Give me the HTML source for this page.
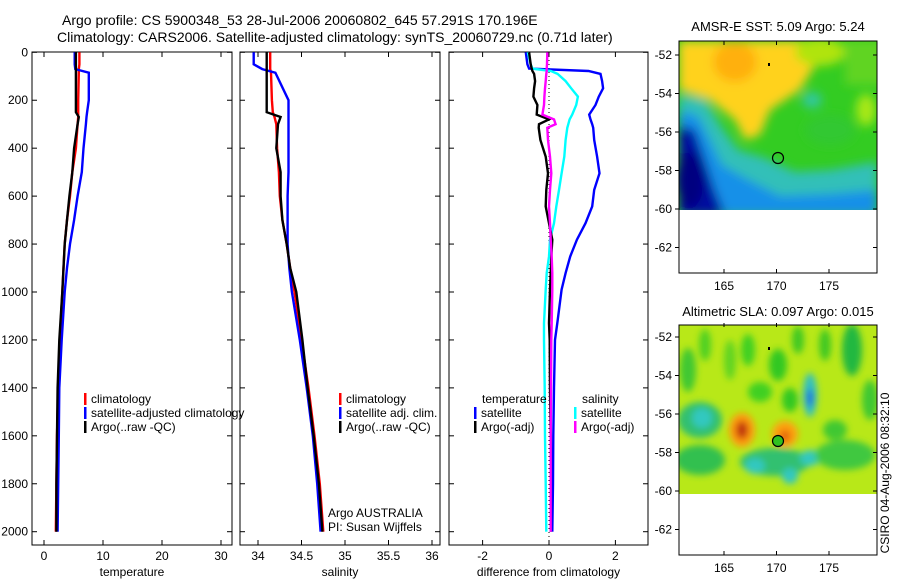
<!DOCTYPE html>
<html><head><meta charset="utf-8"><style>
html,body{margin:0;padding:0;background:#fff;}
svg{display:block;font-family:"Liberation Sans",sans-serif;}
</style></head><body>
<svg id="fig" width="900" height="580" viewBox="0 0 900 580">
<defs>
<filter id="blur1" x="-20%" y="-20%" width="140%" height="140%"><feGaussianBlur stdDeviation="5"/></filter>
<filter id="blur2" x="-20%" y="-20%" width="140%" height="140%"><feGaussianBlur stdDeviation="3.5"/></filter>
<clipPath id="clipTop"><rect x="679" y="41" width="198" height="169"/></clipPath>
<clipPath id="clipBot"><rect x="679" y="325" width="198" height="169"/></clipPath>
<clipPath id="cp1"><rect x="32" y="52" width="200" height="493"/></clipPath>
<clipPath id="cp2"><rect x="240" y="52" width="200" height="493"/></clipPath>
<clipPath id="cp3"><rect x="449" y="52" width="199" height="493"/></clipPath>
</defs>
<text x="62" y="25" font-size="14">Argo profile: CS 5900348_53 28-Jul-2006 20060802_645 57.291S 170.196E</text>
<text x="57" y="42" font-size="14">Climatology: CARS2006. Satellite-adjusted climatology: synTS_20060729.nc (0.71d later)</text>
<g id="plots"></g>

<!-- top map -->
<text x="778" y="31" font-size="13" text-anchor="middle">AMSR-E SST: 5.09 Argo: 5.24</text>
<g clip-path="url(#clipTop)">
<rect x="679" y="41" width="198" height="169" fill="#33cc22"/>
<g filter="url(#blur1)">
<rect x="845" y="40" width="40" height="45" fill="#60d420"/>
<ellipse cx="866" cy="110" rx="10" ry="16" fill="#a8e818"/>
<polygon points="679,41 830,41 800,90 770,110 760,135 745,140 735,120 710,100 679,90" fill="#ffd21a"/>
<ellipse cx="735" cy="62" rx="22" ry="20" fill="#ffb010"/>
<ellipse cx="820" cy="52" rx="25" ry="14" fill="#b0e410"/>
<ellipse cx="812" cy="100" rx="10" ry="8" fill="#30c8a0"/>
<polygon points="679,95 705,100 722,128 738,150 765,158 795,172 830,170 877,162 877,215 679,215" fill="#30c0b8"/>
<polygon points="679,110 698,116 710,140 722,165 745,178 780,196 830,194 877,190 877,215 679,215" fill="#1890e8"/>
<polygon points="679,125 695,130 705,160 715,190 725,215 679,215" fill="#0010a0"/>
<ellipse cx="690" cy="180" rx="14" ry="28" fill="#000080"/>
<ellipse cx="830" cy="130" rx="25" ry="15" fill="#30c830"/>
</g>
<circle cx="778" cy="158" r="5.5" fill="none" stroke="#000" stroke-width="1.2"/>
<rect x="768" y="63" width="2" height="3" fill="#000"/>
</g>
<rect x="679" y="41" width="198" height="232" fill="none" stroke="#000"/>
<g id="mapaxTop"></g>

<!-- bottom map -->
<text x="778" y="316" font-size="13" text-anchor="middle">Altimetric SLA: 0.097 Argo: 0.015</text>
<g clip-path="url(#clipBot)">
<rect x="679" y="325" width="198" height="169" fill="#b8e818"/>
<g filter="url(#blur2)">
<ellipse cx="688" cy="370" rx="8" ry="22" fill="#40c830"/>
<ellipse cx="705" cy="345" rx="6" ry="16" fill="#50d020"/>
<ellipse cx="730" cy="360" rx="6" ry="20" fill="#60d420"/>
<ellipse cx="748" cy="350" rx="7" ry="16" fill="#40d020"/>
<ellipse cx="778" cy="365" rx="9" ry="16" fill="#30c820"/>
<ellipse cx="798" cy="340" rx="6" ry="14" fill="#40c820"/>
<ellipse cx="825" cy="345" rx="6" ry="16" fill="#40c820"/>
<ellipse cx="852" cy="350" rx="10" ry="26" fill="#20b840"/>
<ellipse cx="870" cy="400" rx="8" ry="20" fill="#40c830"/>
<ellipse cx="760" cy="392" rx="12" ry="10" fill="#40d020"/>
<ellipse cx="790" cy="400" rx="8" ry="12" fill="#30c820"/>
<ellipse cx="700" cy="420" rx="22" ry="18" fill="#30c070"/>
<ellipse cx="702" cy="418" rx="10" ry="10" fill="#30c8c0"/>
<ellipse cx="810" cy="395" rx="7" ry="22" fill="#30c0c0"/>
<ellipse cx="810" cy="398" rx="3" ry="9" fill="#2060e0"/>
<ellipse cx="700" cy="460" rx="25" ry="15" fill="#30c050"/>
<ellipse cx="775" cy="462" rx="35" ry="14" fill="#30c070"/>
<ellipse cx="755" cy="466" rx="10" ry="8" fill="#30c8c0"/>
<ellipse cx="790" cy="476" rx="8" ry="8" fill="#30c8c0"/>
<ellipse cx="810" cy="458" rx="10" ry="8" fill="#30c8c0"/>
<ellipse cx="845" cy="455" rx="30" ry="15" fill="#40c840"/>
<ellipse cx="835" cy="430" rx="12" ry="10" fill="#40c830"/>
<ellipse cx="742" cy="430" rx="13" ry="17" fill="#ff9a10"/>
<ellipse cx="742" cy="430" rx="6" ry="9" fill="#c03010"/>
<ellipse cx="785" cy="434" rx="13" ry="13" fill="#ffa010"/>
<ellipse cx="785" cy="436" rx="5" ry="6" fill="#e06010"/>
</g>
<circle cx="778" cy="441" r="5.5" fill="#30c020" stroke="#000" stroke-width="1.2"/>
<rect x="768" y="347" width="2" height="3" fill="#000"/>
</g>
<rect x="679" y="325" width="198" height="230" fill="none" stroke="#000"/>
<g id="mapaxBot"></g>

<text transform="translate(889,473) rotate(-90)" font-size="12" text-anchor="middle">CSIRO 04-Aug-2006 08:32:10</text>
</svg>
<script>
// ---- data ----
const tempDepth = [0,50,70,85,200,250,270,300,400,500,600,700,800,900,1000,1200,1400,1600,1800,2000];
const tempClim = [6.0,6.0,5.9,5.9,5.8,5.8,5.8,5.7,5.4,4.8,4.4,3.9,3.5,3.3,3.1,2.7,2.4,2.2,2.1,2.0];
const tempSat  = [5.2,5.2,5.3,7.6,7.6,7.3,7.2,7.1,6.7,6.4,5.7,5.1,4.4,3.9,3.5,3.0,2.6,2.5,2.4,2.3];
const tempArgo = [5.4,5.4,5.4,5.4,5.4,5.4,5.9,5.7,5.1,4.8,4.3,3.9,3.5,3.3,3.1,2.6,2.3,2.2,2.1,2.1];
const salClim = [34.14,34.14,34.14,34.15,34.16,34.17,34.19,34.21,34.22,34.24,34.25,34.28,34.33,34.37,34.42,34.5,34.58,34.65,34.71,34.75];
const salSat  = [33.95,33.95,34.05,34.2,34.35,34.35,34.35,34.35,34.35,34.35,34.34,34.34,34.34,34.36,34.39,34.48,34.56,34.63,34.68,34.72];
const salArgo = [34.10,34.10,34.10,34.10,34.10,34.10,34.26,34.23,34.21,34.26,34.26,34.28,34.33,34.37,34.44,34.51,34.57,34.64,34.70,34.74];
const diffDepth = [0,50,68,78,90,120,150,185,220,260,280,300,315,366,435,505,574,643,713,782,852,921,990,1130,1200,1400,1600,1800,2000];
const diffSatT  = [-0.7,-0.65,-0.6,1.19,1.55,1.6,1.63,1.5,1.4,1.21,1.25,1.3,1.33,1.36,1.45,1.52,1.36,1.3,1.1,0.84,0.64,0.5,0.38,0.25,0.18,0.15,0.13,0.12,0.1];
const diffSatS  = [-0.64,-0.55,-0.5,0.06,0.26,0.5,0.67,0.87,0.82,0.7,0.62,0.58,0.55,0.5,0.46,0.38,0.3,0.22,0.15,0.03,0.0,-0.07,-0.1,-0.15,-0.15,-0.13,-0.12,-0.1,-0.08];
const diffArgoT = [-0.6,-0.55,-0.52,-0.5,-0.45,-0.42,-0.45,-0.47,-0.35,-0.37,0.0,-0.3,-0.31,-0.26,-0.1,-0.03,-0.08,-0.1,0.0,0.1,0.07,0.05,0.03,0.0,0.02,0.03,0.05,0.05,0.05];
const diffArgoS = [-0.05,-0.06,-0.07,-0.07,-0.08,-0.1,-0.12,-0.14,-0.15,-0.2,0.15,0.2,-0.05,-0.03,0.03,0.07,0.03,0.0,0.03,0.05,0.08,0.1,0.1,0.08,0.07,0.06,0.05,0.05,0.05];
const depthTicks = [0,200,400,600,800,1000,1200,1400,1600,1800,2000];
const tempTicks = [0,10,20,30];
const salTicks = [34,34.5,35,35.5,36];
const diffTicks = [-2,0,2];
const latTicks = [-52,-54,-56,-58,-60,-62];
const lonTicks = [165,170,175];

const NS = 'http://www.w3.org/2000/svg';
const root = document.getElementById('plots');
function mk(tag, attrs, parent){const e=document.createElementNS(NS,tag);for(const k in attrs)e.setAttribute(k,attrs[k]);(parent||root).appendChild(e);return e;}
const yD = d => 52.3 + d*0.2397;
const panels = [
 {name:'temperature-panel', x0:32, x1:232, clip:'cp1', fx: v => 44 + v*5.9, ticks: tempTicks, title:'temperature'},
 {name:'salinity-panel', x0:240, x1:440, clip:'cp2', fx: v => 258 + (v-34)*87, ticks: salTicks, title:'salinity'},
 {name:'difference-panel', x0:449, x1:648, clip:'cp3', fx: v => 549 + v*33.2, ticks: diffTicks, title:'difference from climatology'}
];
panels.forEach((p,i)=>{
  const g = mk('g',{});
  
  
  mk('rect',{x:p.x0,y:52,width:p.x1-p.x0,height:493,fill:'none',stroke:'#000'},g);
  depthTicks.forEach(d=>{
    const y=yD(d);
    mk('line',{x1:p.x0,x2:p.x0+5,y1:y,y2:y,stroke:'#000'},g);
    mk('line',{x1:p.x1,x2:p.x1-5,y1:y,y2:y,stroke:'#000'},g);
    if(i===0){const t=mk('text',{x:p.x0-4,y:y+4,'font-size':12,'text-anchor':'end'},g);t.textContent=d;
      
      }
  });
  p.ticks.forEach(v=>{
    const x=p.fx(v);
    mk('line',{x1:x,x2:x,y1:52,y2:57,stroke:'#000'},g);
    mk('line',{x1:x,x2:x,y1:545,y2:540,stroke:'#000'},g);
    const t=mk('text',{x:x,y:560,'font-size':12,'text-anchor':'middle'},g);t.textContent=v;
    
    
  });
  const tt=mk('text',{x:(p.x0+p.x1)/2,y:576,'font-size':12,'text-anchor':'middle'},g);tt.textContent=p.title;
  
  
});
function line(p, depth, vals, color, name, w){
  const pts = depth.map((d,k)=>p.fx(vals[k]).toFixed(1)+','+yD(d).toFixed(1)).join(' ');
  const e = mk('polyline',{points:pts,fill:'none',stroke:color,'stroke-width':w||2.4,'clip-path':'url(#'+p.clip+')'});
  
  
}
const z = mk('line',{x1:panels[2].fx(0),x2:panels[2].fx(0),y1:52,y2:545,stroke:'#000','stroke-dasharray':'1,3'});


line(panels[0],tempDepth,tempClim,'#ff0000','temp-climatology-line');
line(panels[0],tempDepth,tempSat,'#0000ff','temp-satellite-line');
line(panels[0],tempDepth,tempArgo,'#000000','temp-argo-line');
line(panels[1],tempDepth,salClim,'#ff0000','sal-climatology-line');
line(panels[1],tempDepth,salSat,'#0000ff','sal-satellite-line');
line(panels[1],tempDepth,salArgo,'#000000','sal-argo-line');
line(panels[2],diffDepth,diffSatT,'#0000ff','diff-temp-satellite-line');
line(panels[2],diffDepth,diffSatS,'#00ffff','diff-sal-satellite-line');
line(panels[2],diffDepth,diffArgoT,'#000000','diff-temp-argo-line');
line(panels[2],diffDepth,diffArgoS,'#ff00ff','diff-sal-argo-line');
function leg(x,y,color,label){
  const g=mk('g',{});
  
  
  if(color) mk('rect',{x:x,y:y-10,width:2.5,height:12,fill:color},g);
  const t=mk('text',{x:x+7,y:y,'font-size':12},g);t.textContent=label;
}
leg(84,403,'#ff0000','climatology');
leg(84,417,'#0000ff','satellite-adjusted climatology');
leg(84,431,'#000000','Argo(..raw -QC)');
leg(339,403,'#ff0000','climatology');
leg(339,417,'#0000ff','satellite adj. clim.');
leg(339,431,'#000000','Argo(..raw -QC)');
leg(475,403,null,'temperature');
leg(474,417,'#0000ff','satellite');
leg(474,431,'#000000','Argo(-adj)');
leg(575,403,null,'salinity');
leg(574,417,'#00ffff','satellite');
leg(574,431,'#ff00ff','Argo(-adj)');
const a1=mk('text',{x:328,y:517,'font-size':12});a1.textContent='Argo AUSTRALIA';


const a2=mk('text',{x:328,y:531,'font-size':12});a2.textContent='PI: Susan Wijffels';


function mapAxes(gid, off, bottom){
  const g=document.getElementById(gid);
  latTicks.forEach(l=>{
    const y=55+off+(-52-l)*19.25;
    mk('line',{x1:675,x2:679,y1:y,y2:y,stroke:'#000'},g);
    mk('line',{x1:877,x2:873,y1:y,y2:y,stroke:'#000'},g);
    const t=mk('text',{x:672,y:y+4,'font-size':12,'text-anchor':'end'},g);t.textContent=l;
    
    
  });
  lonTicks.forEach(l=>{
    const x=724+(l-165)*10.5;
    mk('line',{x1:x,x2:x,y1:41+off,y2:45+off,stroke:'#000'},g);
    mk('line',{x1:x,x2:x,y1:bottom,y2:bottom-4,stroke:'#000'},g);
    const t=mk('text',{x:x,y:bottom+17,'font-size':12,'text-anchor':'middle'},g);t.textContent=l;
    
    
  });
}
mapAxes('mapaxTop',0,273);
mapAxes('mapaxBot',282,555);
</script>
</body></html>
